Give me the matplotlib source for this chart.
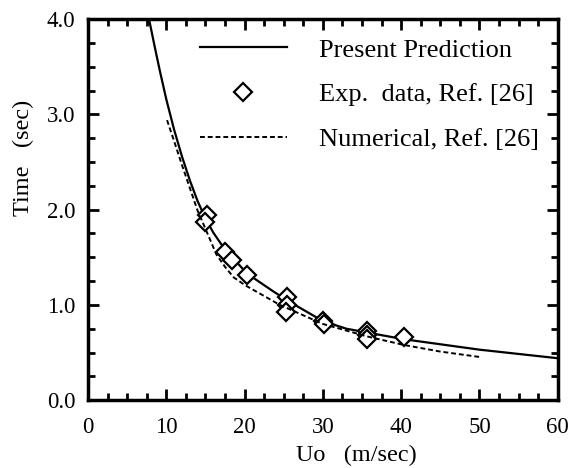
import matplotlib
matplotlib.use('Agg')
import matplotlib.pyplot as plt
from matplotlib.ticker import MultipleLocator

# present prediction (solid)
pred_u = [7.8, 8.5, 9.2, 10.0, 11.0, 12.0, 13.0, 14.0, 15.0, 16.0, 17.0, 18.0, 20.3, 23.7, 25.8, 30.0, 33.0, 40.3, 50.0, 60.0]
pred_t = [4.0, 3.72, 3.45, 3.16, 2.84, 2.56, 2.31, 2.09, 1.91, 1.76, 1.64, 1.54, 1.33, 1.14, 1.03, 0.83, 0.75, 0.64, 0.53, 0.44]

# numerical, Ref. [26] (dashed)
num_u = [10.1, 11.0, 12.0, 13.0, 14.0, 15.0, 16.4, 17.5, 18.6, 20.0, 21.5, 24.5, 30.0, 35.6, 40.3, 45.0, 50.3]
num_t = [2.94, 2.72, 2.47, 2.23, 1.99, 1.80, 1.53, 1.40, 1.29, 1.21, 1.14, 1.0, 0.80, 0.67, 0.58, 0.51, 0.45]

# experimental data, Ref. [26]
exp_u = [15.2, 14.9, 17.5, 18.35, 20.3, 25.4, 25.4, 25.3, 30.0, 30.2, 35.6, 35.6, 35.6, 40.3]
exp_t = [1.94, 1.87, 1.56, 1.47, 1.31, 1.08, 1.00, 0.93, 0.83, 0.80, 0.73, 0.68, 0.64, 0.66]

plt.rcParams['font.family'] = ['Liberation Serif', 'DejaVu Serif']

fig = plt.figure(figsize=(5.75, 4.68), dpi=100)
ax = fig.add_axes([0.153, 0.145, 0.817, 0.814])

ax.plot(pred_u, pred_t, '-', color='black', lw=1.6, label='Present Prediction')
ax.plot(exp_u, exp_t, 'D', mfc='white', mec='black', mew=1.6, ms=9, ls='none',
        label='Exp.  data, Ref. [26]')
ax.plot(num_u, num_t, color='black', lw=1.4, ls=(0, (2.5, 1.5)), label='Numerical, Ref. [26]')

ax.set_xlim(0, 60)
ax.set_ylim(0, 4)
ax.xaxis.set_major_locator(MultipleLocator(10))
ax.xaxis.set_minor_locator(MultipleLocator(2.5))
ax.yaxis.set_major_locator(MultipleLocator(1))
ax.yaxis.set_minor_locator(MultipleLocator(0.25))
ax.yaxis.set_major_formatter(plt.FormatStrFormatter('%.1f'))

ax.tick_params(which='both', direction='in', top=True, right=True, width=2, labelsize=16.5)
ax.tick_params(which='major', length=8)
ax.tick_params(which='minor', length=5)
ax.tick_params(axis='x', which='major', pad=12)
ax.tick_params(axis='y', which='major', pad=9)
for s in ax.spines.values():
    s.set_linewidth(2.5)

ax.set_xlabel('Uo   (m/sec)', fontsize=17.5)
ax.set_ylabel('Time   (sec)', fontsize=17.5)
ax.xaxis.set_label_coords(0.572, -0.117)
ax.yaxis.set_label_coords(-0.115, 0.635)

ax.legend(loc='upper left', bbox_to_anchor=(0.238, 0.95), frameon=False, fontsize=19,
          handlelength=3.3, handletextpad=1.2, labelspacing=0.8, borderpad=0,
          borderaxespad=0, numpoints=1)

fig.savefig('out.png', dpi=100)
